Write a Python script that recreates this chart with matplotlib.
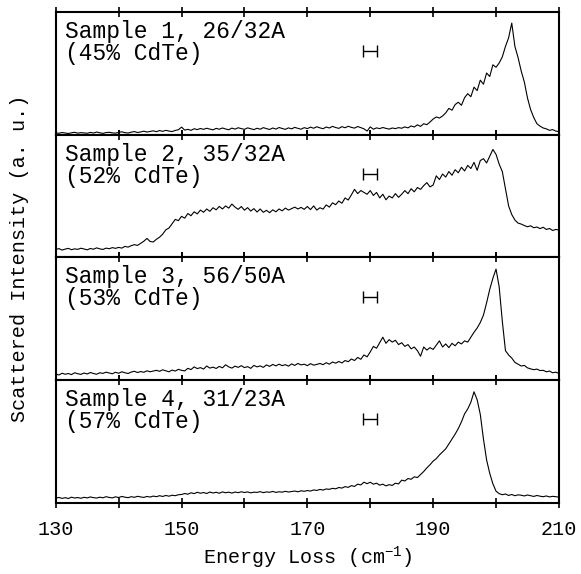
import numpy as np
import matplotlib
matplotlib.use('Agg')
import matplotlib.pyplot as plt

plt.rcParams['font.family'] = ['Liberation Mono', 'DejaVu Sans Mono']
plt.rcParams['mathtext.fontset'] = 'custom'
plt.rcParams['mathtext.rm'] = 'Liberation Mono'
plt.rcParams['mathtext.it'] = 'Liberation Mono'

# energy loss grid (cm^-1), 0.5 step
energy = np.arange(130, 210.01, 0.5)

# scattered intensity (a.u., each panel 0..100)
s1 = [1.5, 1.2, 1.8, 1.4, 1.0, 1.6, 2.0, 1.3, 1.7, 1.5,
      1.2, 1.9, 1.4, 2.2, 1.6, 1.1, 1.8, 2.0, 1.5, 1.3,
      1.9, 2.4, 1.7, 1.4, 2.1, 2.6, 1.8, 2.3, 2.9, 2.2,
      2.7, 3.2, 2.5, 3.4, 2.8, 3.6, 3.0, 2.6, 3.5, 4.1,
      6.2, 3.8, 4.4, 3.6, 4.9, 4.2, 5.1, 4.4, 5.3, 4.6,
      4.0, 5.2, 4.5, 5.5, 4.7, 4.1, 5.4, 4.6, 5.7, 5.0,
      4.4, 5.6, 4.9, 4.2, 5.3, 4.5, 5.8, 5.0, 4.3, 5.5,
      4.6, 5.9, 5.1, 4.4, 5.6, 4.8, 6.0, 5.2, 4.5, 5.8,
      5.0, 6.2, 5.3, 6.5, 5.6, 4.9, 6.3, 5.5, 6.8, 5.9,
      5.2, 6.6, 5.7, 6.9, 6.0, 5.4, 6.7, 5.8, 4.8, 3.0,
      6.4, 4.5, 5.6, 5.0, 5.9, 5.2, 4.6, 5.5, 5.0, 5.8,
      5.3, 6.4, 5.6, 7.2, 6.3, 8.1, 6.8, 9.0, 8.2, 10.4,
      12.8, 14.5, 13.6, 15.3, 17.8, 21.5, 20.0, 24.6, 26.5, 24.0,
      30.2, 33.5, 31.0, 38.8, 36.0, 44.5, 41.2, 50.3, 47.5, 57.0,
      55.0, 58.5, 63.5, 72.0, 79.0, 91.0, 72.0, 63.0, 52.0, 43.0,
      30.0, 20.5, 14.0, 9.0, 7.0, 5.5, 4.8, 3.6, 4.2, 3.0,
      2.5]

s2 = [6.5, 7.2, 6.0, 6.8, 7.4, 6.3, 7.0, 6.6, 7.5, 6.9,
      6.2, 7.3, 6.7, 7.8, 7.0, 6.5, 7.6, 7.1, 8.0, 7.4,
      8.2, 7.6, 9.0, 8.4, 9.6, 10.4, 9.8, 11.5, 13.2, 15.5,
      13.0, 12.6, 14.8, 16.5, 19.0, 22.5, 24.0, 27.5, 31.0, 30.0,
      33.5, 32.0, 35.8, 34.0, 37.2, 35.5, 38.6, 36.8, 39.5, 37.6,
      40.5, 38.8, 41.6, 39.5, 42.0, 40.2, 43.5, 41.0, 39.2, 41.5,
      38.5, 40.6, 37.8, 39.8, 37.0, 39.5, 36.8, 38.4, 36.5, 38.8,
      37.2, 39.5, 38.0, 40.2, 38.6, 39.8, 41.0, 39.5, 40.8, 39.2,
      41.5, 39.0, 42.0, 38.6, 40.5, 39.4, 42.8, 41.0, 44.5, 43.0,
      46.0, 44.2, 48.5, 46.8, 51.0, 55.5, 52.0, 54.5, 53.0, 51.5,
      54.5, 50.5, 53.0, 48.5, 51.5, 47.0, 50.0, 48.5, 52.0, 49.0,
      51.5, 54.5, 52.0, 56.0, 53.5, 57.0, 55.5, 58.5, 61.0, 57.5,
      59.0, 66.5, 63.5, 68.0, 65.5, 70.0, 67.0, 71.5, 69.0, 73.5,
      70.5, 75.0, 72.5, 77.5, 71.0, 79.0, 80.5, 77.0, 82.5, 88.0,
      84.0, 76.0, 70.0, 56.0, 42.0, 35.0, 30.5, 28.0, 27.2, 26.0,
      25.0, 25.8, 24.2, 24.8, 23.5, 24.6, 22.8, 23.6, 22.0, 22.8,
      22.4]

s3 = [5.0, 4.2, 5.6, 4.8, 5.4, 4.5, 6.0, 5.2, 4.7, 5.8,
      5.0, 6.2, 5.4, 4.8, 6.0, 5.5, 6.5, 5.8, 5.2, 6.4,
      5.6, 6.8, 6.0, 5.4, 6.6, 7.2, 6.2, 7.0, 6.4, 7.6,
      6.8, 7.4, 8.0, 7.2, 8.4, 7.6, 6.8, 8.2, 7.4, 8.8,
      8.0, 7.5, 9.6, 8.6, 10.8, 9.4, 10.2, 9.0, 11.5, 9.8,
      10.6, 9.5, 11.2, 10.0, 12.5, 10.8, 9.8, 11.4, 10.4, 11.8,
      10.2, 11.0, 9.6, 12.0, 10.8, 11.6, 10.4, 12.4, 11.2, 12.8,
      11.6, 13.0, 11.8, 12.6, 11.4, 13.2, 12.0, 13.6, 12.4, 13.0,
      11.8, 13.4, 12.2, 12.8, 13.6, 12.6, 14.2, 13.0, 14.8, 13.8,
      15.2, 14.0, 16.0, 15.0, 17.2, 16.0, 18.5, 17.0, 20.5, 19.0,
      23.0, 27.5, 26.0, 30.5, 35.0, 30.0, 33.0, 31.0, 32.5, 29.0,
      30.5, 27.5, 29.0, 25.5, 27.0, 24.0, 19.5, 27.0, 24.5, 26.5,
      25.0, 28.5, 32.0, 27.0, 29.5, 26.5, 30.0, 28.0, 31.0, 29.5,
      32.0, 31.0, 35.0, 39.0, 42.5, 47.0, 53.0, 63.0, 74.0, 83.0,
      90.5, 76.0, 48.0, 24.0, 20.5, 18.0, 14.5, 13.0, 11.5, 12.0,
      10.0, 9.2, 8.5, 9.0, 7.8, 8.0, 6.8, 7.4, 6.0, 6.5,
      5.5]

s4 = [3.8, 4.4, 3.6, 4.2, 3.5, 4.6, 3.9, 4.3, 3.7, 4.5,
      4.0, 4.8, 4.2, 3.9, 4.6, 4.1, 5.0, 4.4, 4.0, 4.9,
      4.3, 5.2, 4.6, 4.2, 5.0, 4.5, 5.3, 4.8, 4.4, 5.2,
      4.7, 5.5, 5.0, 5.8, 5.2, 6.0, 5.4, 6.2, 5.8, 6.6,
      6.8, 7.6, 7.0, 8.2, 7.5, 8.6, 7.8, 8.4, 7.6, 8.8,
      8.0, 8.6, 7.8, 8.9, 8.2, 8.7, 7.9, 8.8, 8.3, 9.0,
      8.4, 8.9, 8.1, 8.7, 8.5, 9.1, 8.3, 8.9, 8.6, 9.3,
      8.5, 9.0, 8.7, 9.4, 8.8, 9.2, 9.6, 9.0, 9.8, 9.4,
      10.0, 9.6, 10.5, 10.1, 10.9, 10.4, 11.3, 11.0, 11.8, 11.4,
      12.5, 12.0, 13.2, 12.6, 14.0, 13.4, 15.2, 14.6, 16.8, 15.6,
      16.8, 15.2, 16.0, 14.4, 15.2, 13.8, 14.8, 14.2, 16.0, 15.4,
      18.5, 17.8, 19.8, 19.2, 21.2, 20.6, 23.0, 25.5, 28.5, 31.0,
      34.0, 36.0, 39.0, 41.5, 44.0, 48.0, 52.0, 56.0, 60.5, 66.0,
      72.5, 76.5, 82.0, 90.5, 84.0, 72.0, 52.0, 35.0, 24.0, 15.5,
      9.5, 7.5, 6.6, 7.2, 6.0, 6.8, 5.8, 6.5, 6.2, 5.6,
      6.4, 5.8, 5.2, 6.0, 5.4, 5.0, 5.6, 4.8, 5.3, 5.0,
      4.6]

spectra = [s1, s2, s3, s4]
labels = ['Sample 1, 26/32A', 'Sample 2, 35/32A', 'Sample 3, 56/50A', 'Sample 4, 31/23A']
fractions = ['(45% CdTe)', '(52% CdTe)', '(53% CdTe)', '(57% CdTe)']

# instrumental resolution bar
res_center = 180.0
res_halfwidth = 1.1
res_level = 68

fig, axes = plt.subplots(4, 1, sharex=True, figsize=(5.81, 5.74), dpi=100)
fig.subplots_adjust(left=0.096, right=0.962, top=0.979, bottom=0.124, hspace=0)

for ax, s, lab, frac in zip(axes, spectra, labels, fractions):
    ax.plot(energy, s, color='k', lw=0.8)
    ax.errorbar(res_center, res_level, xerr=res_halfwidth, color='k',
                lw=1.0, capsize=4.5, capthick=1.0)
    ax.text(131.4, 79, lab, fontsize=16.5, va='baseline')
    ax.text(131.4, 61, frac, fontsize=16.5, va='baseline')
    ax.set_ylim(0, 100)
    ax.set_xlim(130, 210)
    ax.set_yticks([])
    ax.set_xticks(np.arange(130, 211, 10))
    ax.tick_params(axis='x', direction='inout', length=7, width=1.2,
                   top=True, bottom=True, labelbottom=False)
    for sp in ax.spines.values():
        sp.set_linewidth(1.5)

axes[-1].set_xticks(np.arange(130, 211, 10))
axes[-1].set_xticklabels(['130', '', '150', '', '170', '', '190', '', '210'])
axes[-1].tick_params(axis='x', labelbottom=True, labelsize=14.5, pad=9)
axes[-1].set_xlabel('Energy Loss (cm$^{-1}$)', fontsize=14.5, labelpad=4)

fig.text(20 / 581, 1 - 258 / 574, 'Scattered Intensity (a. u.)', rotation=90,
         fontsize=14.5, ha='center', va='center')

fig.savefig('out.png')
